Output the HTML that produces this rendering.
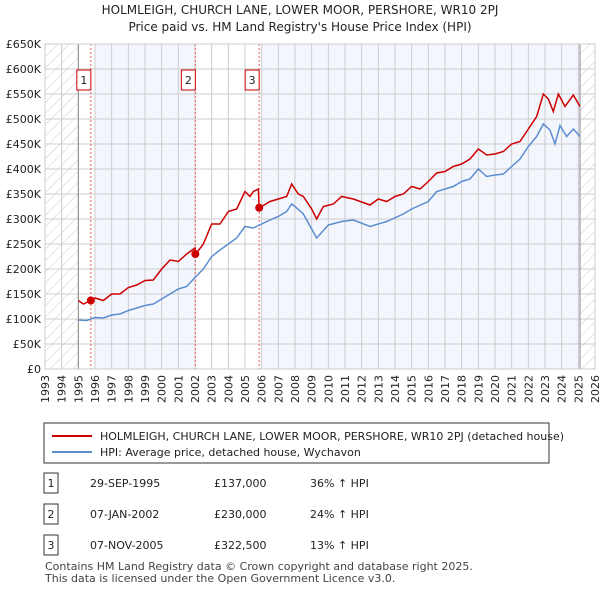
<!DOCTYPE html>
<html><head><meta charset="utf-8"><style>
body{margin:0;background:#fff;font-family:"Liberation Sans","DejaVu Sans",sans-serif;}
svg text{font-family:"DejaVu Sans","Liberation Sans",sans-serif;}
</style></head><body>
<svg id="c" width="600" height="590" xmlns="http://www.w3.org/2000/svg">
<defs><pattern id="hatch" width="8" height="8" patternUnits="userSpaceOnUse" patternTransform="rotate(45)"><line x1="0" y1="0" x2="0" y2="8" stroke="#ccc" stroke-width="1"/></pattern></defs>
<text x="300" y="14" text-anchor="middle" font-size="12" fill="#222">HOLMLEIGH, CHURCH LANE, LOWER MOOR, PERSHORE, WR10 2PJ</text>
<text x="300" y="31" text-anchor="middle" font-size="12" fill="#222">Price paid vs. HM Land Registry's House Price Index (HPI)</text>
<g id="plot"></g>
<rect x="44" y="423" width="505" height="40" fill="#fff" stroke="#333"/>
<line x1="52" y1="436" x2="92" y2="436" stroke="#cc0000" stroke-width="2"/>
<text x="100" y="440" font-size="11" fill="#222">HOLMLEIGH, CHURCH LANE, LOWER MOOR, PERSHORE, WR10 2PJ (detached house)</text>
<line x1="52" y1="452" x2="92" y2="452" stroke="#5b8dd0" stroke-width="2"/>
<text x="100" y="456" font-size="11" fill="#222">HPI: Average price, detached house, Wychavon</text>
<g id="tbl"></g>
<text x="45" y="570" font-size="11" fill="#444">Contains HM Land Registry data © Crown copyright and database right 2025.</text>
<text x="45" y="582" font-size="11" fill="#444">This data is licensed under the Open Government Licence v3.0.</text>
</svg>
<script>
const hpiYears=[1995,1995.5,1996,1996.5,1997,1997.5,1998,1998.5,1999,1999.5,2000,2000.5,2001,2001.5,2002,2002.5,2003,2003.5,2004,2004.5,2005,2005.5,2006,2006.5,2007,2007.5,2007.8,2008,2008.5,2009,2009.3,2010,2010.8,2011.5,2012.5,2013.5,2014.5,2015,2016,2016.5,2017.5,2018,2018.5,2019,2019.5,2020,2020.5,2021,2021.5,2022,2022.5,2022.9,2023.3,2023.6,2023.9,2024.3,2024.7,2025.1];
const hpiValues=[98,97,103,102,108,110,117,122,127,130,140,150,160,165,183,200,225,238,250,262,285,282,290,298,305,315,330,325,310,280,262,288,295,298,285,295,310,320,335,355,365,375,380,400,385,388,390,405,420,445,465,490,478,450,487,465,480,465];
const redYears=[1995,1995.3,1995.75,1996,1996.5,1997,1997.5,1998,1998.5,1999,1999.5,2000,2000.5,2001,2001.5,2002,2002.05,2002.5,2003,2003.5,2004,2004.5,2005,2005.3,2005.5,2005.8,2005.85,2006.5,2007,2007.5,2007.8,2008.2,2008.5,2009,2009.3,2009.7,2010.3,2010.8,2011.5,2012.5,2013,2013.5,2014,2014.5,2015,2015.5,2016,2016.5,2017,2017.5,2018,2018.5,2019,2019.5,2020,2020.5,2021,2021.5,2022,2022.5,2022.9,2023.2,2023.5,2023.8,2024.2,2024.7,2025.1];
const redValues=[137,130,137,142,137,150,150,163,168,177,178,200,218,215,230,242,230,250,290,290,315,320,355,345,355,360,322,335,340,345,370,350,345,320,300,325,330,345,340,328,340,335,345,350,365,360,375,392,395,405,410,420,440,428,430,435,450,455,480,505,550,540,515,550,525,548,525];
const saleYears=[1995.75,2002.02,2005.85];
const saleValues=[137,230,322.5];
const saleLabels=["1","2","3"];
const yTicks=[0,50,100,150,200,250,300,350,400,450,500,550,600,650];
const yTickLabels=["£0","£50K","£100K","£150K","£200K","£250K","£300K","£350K","£400K","£450K","£500K","£550K","£600K","£650K"];
const xTicks=[1993,1994,1995,1996,1997,1998,1999,2000,2001,2002,2003,2004,2005,2006,2007,2008,2009,2010,2011,2012,2013,2014,2015,2016,2017,2018,2019,2020,2021,2022,2023,2024,2025,2026];
const tableDates=["29-SEP-1995","07-JAN-2002","07-NOV-2005"];
const tablePrices=["£137,000","£230,000","£322,500"];
const tableHpi=["36% ↑ HPI","24% ↑ HPI","13% ↑ HPI"];

const X0=45,X1=595,Y0=369,Y1=44;
const xs=y=>X0+(y-1993)/(2026-1993)*(X1-X0);
const ys=v=>Y0-v/650*(Y0-Y1);
const NS="http://www.w3.org/2000/svg";
const plot=document.getElementById('plot');
function mk(tag,attrs,parent){const e=document.createElementNS(NS,tag);for(const k in attrs)e.setAttribute(k,attrs[k]);(parent||plot).appendChild(e);return e;}
let e;
e=mk('rect',{x:X0,y:Y1,width:X1-X0,height:Y0-Y1,fill:'#fff'});


const bands=[[1996,saleYears[1]],[2006,2025.1]];
bands.forEach(b=>{e=mk('rect',{x:xs(b[0]),y:Y1,width:xs(b[1])-xs(b[0]),height:Y0-Y1,fill:'#f3f6fd'});

});
e=mk('rect',{x:X0,y:Y1,width:xs(1995)-X0,height:Y0-Y1,fill:'url(#hatch)'});


e=mk('rect',{x:xs(2025.1),y:Y1,width:X1-xs(2025.1),height:Y0-Y1,fill:'url(#hatch)'});


xTicks.forEach((t,i)=>{e=mk('line',{x1:xs(t),x2:xs(t),y1:Y1,y2:Y0,stroke:'#ccc','stroke-width':1});


e=mk('text',{x:0,y:0,'font-size':11,fill:'#222','text-anchor':'end',transform:`translate(${xs(t)+4},${Y0+6}) rotate(-90)`});
e.textContent=t;

});
yTicks.forEach((t,i)=>{e=mk('line',{x1:X0,x2:X1,y1:ys(t),y2:ys(t),stroke:'#ccc','stroke-width':1});


e=mk('text',{x:X0-4,y:ys(t)+4,'font-size':11,fill:'#222','text-anchor':'end'});
e.textContent=yTickLabels[i];

});
e=mk('line',{x1:xs(1995),x2:xs(1995),y1:Y1,y2:Y0,stroke:'#888'});


e=mk('line',{x1:xs(2025.1),x2:xs(2025.1),y1:Y1,y2:Y0,stroke:'#888'});


saleYears.forEach((s,i)=>{e=mk('line',{x1:xs(s),x2:xs(s),y1:Y1,y2:Y0,stroke:'#e06060','stroke-dasharray':'2,2'});


e=mk('rect',{x:xs(s)-14,y:70,width:14,height:20,fill:'#fff',stroke:'#cc0000'});


e=mk('text',{x:xs(s)-7,y:84,'font-size':11,'text-anchor':'middle',fill:'#222'});
e.textContent=saleLabels[i];

});
e=mk('polyline',{points:hpiYears.map((y,i)=>xs(y)+','+ys(hpiValues[i])).join(' '),fill:'none',stroke:'#5b8dd0','stroke-width':1.5});


e=mk('polyline',{points:redYears.map((y,i)=>xs(y)+','+ys(redValues[i])).join(' '),fill:'none',stroke:'#cc0000','stroke-width':1.5});


saleYears.forEach((s,i)=>{e=mk('circle',{cx:xs(s),cy:ys(saleValues[i]),r:4,fill:'#cc0000'});

});
e=mk('rect',{x:X0,y:Y1,width:X1-X0,height:Y0-Y1,fill:'none',stroke:'#ccc'});


const tbl=document.getElementById('tbl');
const rowY=[483,514,545];
rowY.forEach((y,i)=>{e=mk('rect',{x:44,y:y-10,width:14,height:20,fill:'#fff',stroke:'#333'},tbl);


e=mk('text',{x:51,y:y+4,'font-size':11,'text-anchor':'middle',fill:'#222'},tbl);e.textContent=saleLabels[i];


e=mk('text',{x:90,y:y+4,'font-size':11,fill:'#222'},tbl);e.textContent=tableDates[i];


e=mk('text',{x:214,y:y+4,'font-size':11,fill:'#222'},tbl);e.textContent=tablePrices[i];


e=mk('text',{x:310,y:y+4,'font-size':11,fill:'#222'},tbl);e.textContent=tableHpi[i];

});
</script>
</body></html>
